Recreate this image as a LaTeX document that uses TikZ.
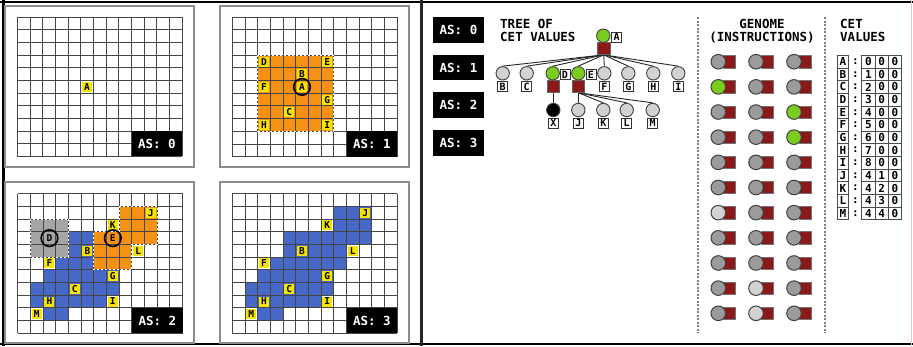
\documentclass[tikz,border=0pt]{standalone}
\usepackage{fontspec}
\setmonofont{DejaVu Sans Mono}
\pgfdeclarelayer{bg}
\pgfsetlayers{bg,main}
\definecolor{orng}{RGB}{245,146,20}
\definecolor{blu}{RGB}{72,104,200}
\definecolor{gry}{RGB}{165,165,165}
\definecolor{ylw}{RGB}{245,228,0}
\definecolor{grn}{RGB}{122,204,30}
\definecolor{dred}{RGB}{140,25,25}
\definecolor{lg}{RGB}{210,210,210}
\definecolor{mg}{RGB}{155,155,155}
\definecolor{gridc}{RGB}{70,70,70}
\definecolor{pinkline}{RGB}{225,195,205}
\newcommand{\cellgrid}{%
  \foreach \i in {0,...,13} \draw[gl] (\i,0) -- (\i,11);
  \foreach \j in {0,...,11} \draw[gl] (0,\j) -- (13,\j);}
\begin{document}
\begin{tikzpicture}[x=1pt,y=-1pt,
  gl/.style={draw=gridc, line width=0.8pt},
  ylab/.style={fill=ylw, inner sep=0pt, minimum size=10pt, font=\ttfamily\bfseries\fontsize{9.5}{9.5}\selectfont},
  asbox/.style={fill=black, text=white, inner sep=0pt, minimum width=50.6pt, minimum height=25.3pt, font=\ttfamily\bfseries\fontsize{12.5}{12.5}\selectfont},
  ring/.style={draw=black, line width=1.6pt},
  wdash/.style={draw=white, line width=1pt, dash pattern=on 2pt off 2pt},
  pframe/.style={draw=black!45, line width=1.5pt},
  tci/.style={circle, draw=black!75, line width=0.9pt, minimum size=13.4pt, inner sep=0pt, fill=lg},
  tsq/.style={rectangle, draw=black!60, line width=0.6pt, fill=dred, minimum size=12.5pt, inner sep=0pt},
  tlab/.style={draw=black!80, fill=white, line width=0.8pt, inner sep=0pt, minimum width=10pt, minimum height=10pt, font=\ttfamily\bfseries\fontsize{10}{10}\selectfont},
  tedge/.style={draw=black!85, line width=0.9pt},
  ttl/.style={font=\ttfamily\bfseries\fontsize{12.5}{12.5}\selectfont, inner sep=0pt},
  gci/.style={circle, draw=black!75, line width=1pt, minimum size=14.6pt, inner sep=0pt},
  gsq/.style={rectangle, draw=black!55, line width=0.6pt, fill=dred, minimum size=12.3pt, inner sep=0pt},
  gdash/.style={draw=black!50, line width=1.2pt, dash pattern=on 2pt off 1.5pt},
  cbox/.style={draw=black!70, line width=0.8pt, inner sep=0pt, minimum height=12.63pt, font=\ttfamily\bfseries\fontsize{11}{11}\selectfont}
]
\useasboundingbox (0,0) rectangle (913,346);
\begin{pgfonlayer}{bg}
\fill[white] (0,0) rectangle (913,346);
\end{pgfonlayer}

% outer lines
\draw[black, line width=2.5pt] (0,2) -- (913,2);
\draw[black, line width=2.5pt] (0,344) -- (913,344);
\draw[black, line width=3pt] (3.5,0) -- (3.5,346);
\draw[black!85, line width=2.5pt] (421.5,0) -- (421.5,346);
\draw[pinkline, line width=1.5pt] (911.5,0) -- (911.5,346);

% panel frames
\draw[pframe] (5,6) rectangle (194,167);
\draw[pframe] (220,6) rectangle (409,167);
\draw[pframe] (5,182) rectangle (194,343);
\draw[pframe] (220,182) rectangle (409,343);

% ---------- panel 1 ----------
\begin{scope}[shift={(17.3pt,-16.9pt)},x=12.67pt,y=-12.67pt]
\cellgrid
\node[ylab] (p1A) at (5.5,5.5) {A};
\node[asbox, anchor=north west] (p1as) at (9,9) {AS: 0};
\end{scope}

% ---------- panel 2 ----------
\begin{scope}[shift={(232.3pt,-17.2pt)},x=12.67pt,y=-12.67pt]
\fill[orng] (2,3) rectangle (8,9);
\cellgrid
\draw[wdash] (2,3) rectangle (8,9);
\node[ylab] (p2D) at (2.5,3.5) {D};
\node[ylab] (p2E) at (7.5,3.5) {E};
\node[ylab] (p2B) at (5.5,4.5) {B};
\node[ylab] (p2F) at (2.5,5.5) {F};
\node[ylab] (p2A) at (5.5,5.5) {A};
\node[ylab] (p2G) at (7.5,6.5) {G};
\node[ylab] (p2C) at (4.5,7.5) {C};
\node[ylab] (p2H) at (2.5,8.5) {H};
\node[ylab] (p2I) at (7.5,8.5) {I};
\draw[ring] (p2A.center) circle (8.3pt);
\node[asbox, anchor=north west] (p2as) at (9,9) {AS: 1};
\end{scope}

% ---------- panel 3 ----------
\begin{scope}[shift={(17.8pt,-193.8pt)},x=12.67pt,y=-12.67pt]
\fill[gry] (1,2) rectangle (4,5);
\foreach \a/\b/\r in {4/5/3, 4/5/4, 3/5/5, 2/7/6, 1/7/7, 1/6/8, 2/3/9}
  \fill[blu] (\a,\r) rectangle (\b+1,\r+1);
\fill[orng] (8,1) -- (11,1) -- (11,4) -- (9,4) -- (9,6) -- (6,6) -- (6,3) -- (8,3) -- cycle;
\cellgrid
\draw[wdash] (1,2) rectangle (4,5);
\draw[wdash] (8,1) -- (11,1) -- (11,4) -- (9,4) -- (9,6) -- (6,6) -- (6,3) -- (8,3) -- cycle;
\node[ylab] (p3J) at (10.5,1.5) {J};
\node[ylab] (p3K) at (7.5,2.5) {K};
\node[ylab, fill=gry] (p3D) at (2.5,3.5) {D};
\node[ylab, fill=orng] (p3E) at (7.5,3.5) {E};
\node[ylab] (p3B) at (5.5,4.5) {B};
\node[ylab] (p3L) at (9.5,4.5) {L};
\node[ylab] (p3F) at (2.5,5.5) {F};
\node[ylab] (p3G) at (7.5,6.5) {G};
\node[ylab] (p3C) at (4.5,7.5) {C};
\node[ylab] (p3H) at (2.5,8.5) {H};
\node[ylab] (p3I) at (7.5,8.5) {I};
\node[ylab] (p3M) at (1.5,9.5) {M};
\draw[ring] (p3D.center) circle (8.3pt);
\draw[ring] (p3E.center) circle (8.3pt);
\node[asbox, anchor=north west] (p3as) at (9,9) {AS: 2};
\end{scope}

% ---------- panel 4 ----------
\begin{scope}[shift={(232.3pt,-193.8pt)},x=12.67pt,y=-12.67pt]
\foreach \a/\b/\r in {8/10/1, 8/10/2, 4/10/3, 4/8/4, 3/8/5, 2/7/6, 1/7/7, 1/6/8, 2/3/9}
  \fill[blu] (\a,\r) rectangle (\b+1,\r+1);
\cellgrid
\node[ylab] (p4J) at (10.5,1.5) {J};
\node[ylab] (p4K) at (7.5,2.5) {K};
\node[ylab] (p4B) at (5.5,4.5) {B};
\node[ylab] (p4L) at (9.5,4.5) {L};
\node[ylab] (p4F) at (2.5,5.5) {F};
\node[ylab] (p4G) at (7.5,6.5) {G};
\node[ylab] (p4C) at (4.5,7.5) {C};
\node[ylab] (p4H) at (2.5,8.5) {H};
\node[ylab] (p4I) at (7.5,8.5) {I};
\node[ylab] (p4M) at (1.5,9.5) {M};
\node[asbox, anchor=north west] (p4as) at (9,9) {AS: 3};
\end{scope}

% ---------- right half: AS legend ----------
\node[asbox] (r0) at (458.5,30) {AS: 0};
\node[asbox] (r1) at (458.5,67.5) {AS: 1};
\node[asbox] (r2) at (458.5,105) {AS: 2};
\node[asbox] (r3) at (458.5,143) {AS: 3};

% ---------- tree ----------
\node[ttl, align=left, anchor=north west] (treettl) at (500,19.5) {TREE OF\\CET VALUES};

\node[tsq] (Asq) at (603.7,48.3) {};
\node[tci, fill=grn] (Aci) at (603.3,35.7) {};
\node[tlab] (Al) at (616.7,37) {A};

\foreach \n/\x in {B/502.7, C/526.7, F/604.3, G/628.3, H/653.3, I/678.3} {
  \node[tci] (c\n) at (\x,73.3) {};
  \node[tlab] (l\n) at (\x,86.7) {\n};
}
\node[tsq] (Dsq) at (553.3,86.2) {};
\node[tci, fill=grn] (cD) at (552.7,73.3) {};
\node[tlab] (lD) at (565,74.7) {D};
\node[tsq] (Esq) at (578.3,86.2) {};
\node[tci, fill=grn] (cE) at (578.3,73.3) {};
\node[tlab] (lE) at (591,74.7) {E};

\node[tci, fill=black] (cX) at (553.3,110) {};
\node[tlab] (lX) at (553.3,123.3) {X};
\foreach \n/\x in {J/578.3, K/603.3, L/626.7, M/652.7} {
  \node[tci] (c\n) at (\x,110) {};
  \node[tlab] (l\n) at (\x,123.3) {\n};
}

\begin{pgfonlayer}{bg}
\foreach \n in {B,C,D,E,F,G,H,I} \draw[tedge] (Asq.south) -- (c\n.north);
\draw[tedge] (Dsq.south) -- (cX.north);
\foreach \n in {J,K,L,M} \draw[tedge] (Esq.south) -- (c\n.north);
\end{pgfonlayer}

% ---------- genome ----------
\draw[gdash] (698,17) -- (698,333);
\draw[gdash] (825,17) -- (825,333);
\node[ttl, align=center, anchor=north] (genttl) at (762,19.5) {GENOME\\(INSTRUCTIONS)};

\foreach \k/\a/\b/\d in {0/mg/mg/mg, 1/grn/mg/mg, 2/mg/mg/grn, 3/mg/mg/grn, 4/mg/mg/mg, 5/mg/mg/mg, 6/lg/mg/mg, 7/mg/mg/mg, 8/mg/mg/mg, 9/mg/lg/mg, 10/mg/lg/mg} {
  \node[gsq] (sa\k) at (729.5,{61.7+25.16*\k}) {};
  \node[gci, fill=\a] (ca\k) at (718.3,{61.7+25.16*\k}) {};
  \node[gsq] (sb\k) at (767.2,{61.7+25.16*\k}) {};
  \node[gci, fill=\b] (cb\k) at (756,{61.7+25.16*\k}) {};
  \node[gsq] (sc\k) at (805.3,{61.7+25.16*\k}) {};
  \node[gci, fill=\d] (cc\k) at (794,{61.7+25.16*\k}) {};
}

% ---------- CET values ----------
\node[ttl, align=left, anchor=north west] (cetttl) at (840,19.5) {CET\\VALUES};
\foreach \L/\p/\q/\r [count=\k from 0] in {A/0/0/0, B/1/0/0, C/2/0/0, D/3/0/0, E/4/0/0, F/5/0/0, G/6/0/0, H/7/0/0, I/8/0/0, J/4/1/0, K/4/2/0, L/4/3/0, M/4/4/0} {
  \node[cbox, minimum width=10.6pt] (tl\k) at (843,{61.7+12.63*\k}) {\L};
  \node[inner sep=0pt, font=\ttfamily\bfseries\fontsize{11}{11}\selectfont] (tc\k) at (855.5,{61.7+12.63*\k}) {:};
  \node[cbox, minimum width=13.33pt] (tp\k) at (868.4,{61.7+12.63*\k}) {\p};
  \node[cbox, minimum width=13.33pt] (tq\k) at (881.7,{61.7+12.63*\k}) {\q};
  \node[cbox, minimum width=13.33pt] (tr\k) at (895.0,{61.7+12.63*\k}) {\r};
}
\end{tikzpicture}
\end{document}
